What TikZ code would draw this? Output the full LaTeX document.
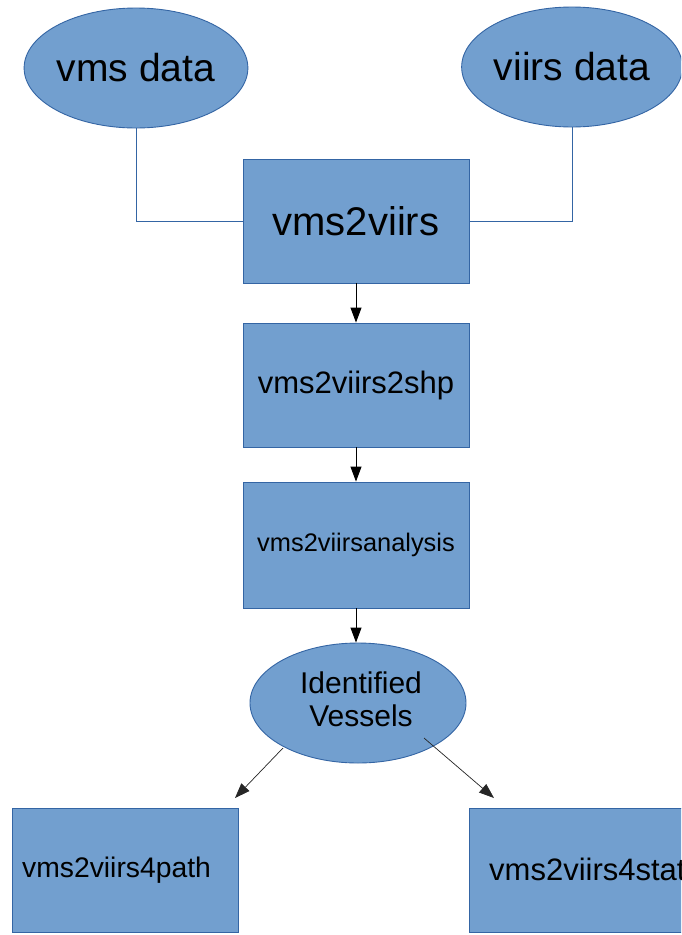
\documentclass[tikz,border=0pt]{standalone}
\usepackage{fontspec}
\setmainfont{Liberation Sans}
\usetikzlibrary{arrows.meta,shapes.geometric}
\definecolor{boxfill}{HTML}{729FCF}
\definecolor{boxline}{HTML}{3465A4}
\begin{document}
\begin{tikzpicture}[x=1pt,y=-1pt,
  base/.style={fill=boxfill,draw=boxline,line width=0.9pt,inner sep=0pt,text=black},
  blob/.style={base,ellipse,minimum width=216pt,minimum height=120pt},
  stage/.style={base,rectangle,minimum width=226pt,minimum height=124pt},
  fbig/.style={font=\fontsize{39}{46}\selectfont},
  caption/.style={inner sep=0pt,text=black},
  link/.style={draw=boxline,line width=0.9pt},
  flow/.style={draw=black,line width=0.9pt,-{Triangle[width=11pt,length=15pt]}},
  side/.style={draw=black!85,line width=0.7pt,-{Triangle[width=11pt,length=15pt]}}]
\useasboundingbox (0,0) rectangle (681,935);
\clip (0,0) rectangle (681,935);
\fill[white] (0,0) rectangle (681,935);

% sources
\node[blob,fbig] (vms) at (136,68) {vms data};
\node[blob,fbig] (viirs) at (572,67) {viirs data};

% processing chain
\node[stage,font=\fontsize{40}{46}\selectfont] (join) at (356,221) {vms2viirs};
\node[stage,font=\fontsize{31}{36}\selectfont] (shp) at (356,385) {vms2viirs2shp};
\node[stage,minimum height=126pt,font=\fontsize{25.4}{30}\selectfont] (ana) at (356,545) {vms2viirsanalysis};
\node[blob] (ident) at (358,703) {};
% two-line caption; the base anchor sits on the last line
\node[caption,anchor=base,align=center,font=\fontsize{30}{32.5}\selectfont] (identtxt) at (361,726) {Identified\\Vessels};

% outputs (the right box runs past the page edge)
\node[stage] (path) at (125,870) {};
\node[stage] (stats) at (582,870) {};
\node[caption,anchor=base west,font=\fontsize{28.3}{34}\selectfont] (pathtxt) at (22,877) {vms2viirs4path};
\node[caption,anchor=base west,font=\fontsize{31}{36}\selectfont] (statstxt) at (489,880) {vms2viirs4stats};

% connectors
\draw[link] (vms.south) |- (join.west);
\draw[link] (viirs.south) |- (join.east);
\draw[flow] (join.south) -- (shp.north);
\draw[flow] (shp.south) -- (ana.north);
\draw[flow] (ana.south) -- (ana.south |- ident.north);

\coordinate (ls) at (283,748);
\coordinate (le) at (235,798);
\coordinate (rs) at (424,738);
\coordinate (re) at (494,798);
\draw[side] (ls) -- (le);
\draw[side] (rs) -- (re);
\end{tikzpicture}
\end{document}
